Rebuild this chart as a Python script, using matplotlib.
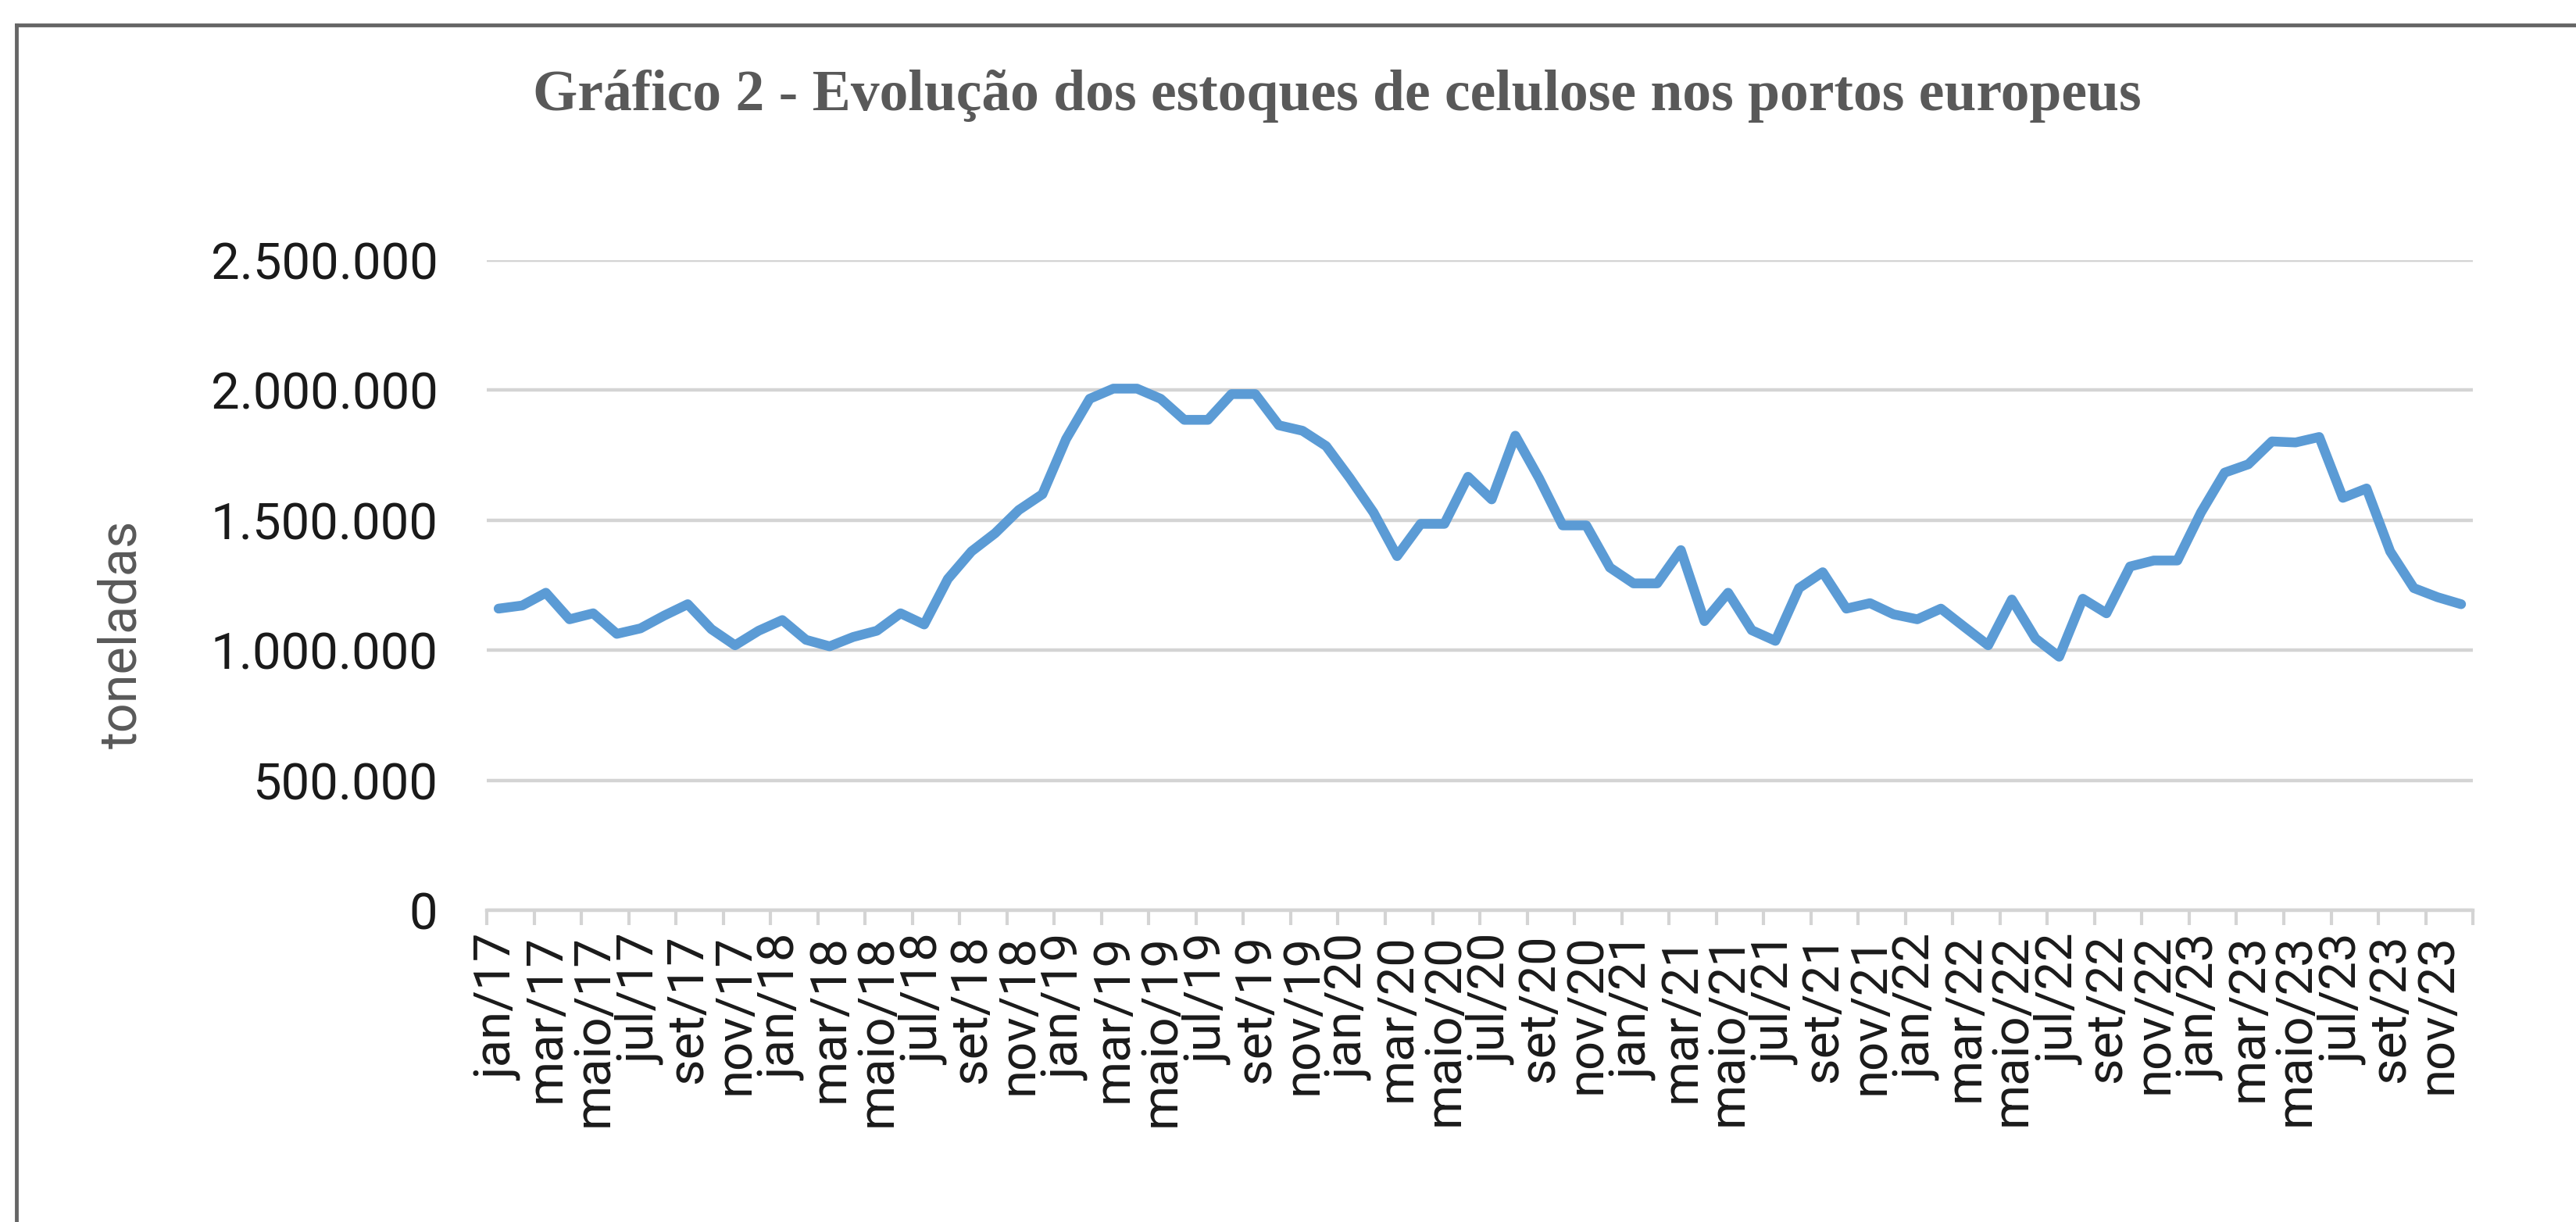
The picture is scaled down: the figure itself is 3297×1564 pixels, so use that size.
import matplotlib.pyplot as plt
import matplotlib.ticker as tck
import numpy as np
from matplotlib.lines import Line2D

# month / year labels used on the category axis
MONTHS = ['jan', 'fev', 'mar', 'abr', 'maio', 'jun', 'jul', 'ago', 'set', 'out', 'nov', 'dez']
YEARS = ['17', '18', '19', '20', '21', '22', '23']

# stocks in European ports, thousand tonnes, read month by month
stocks_2017 = [1160, 1172, 1221, 1119, 1142, 1063, 1084, 1133, 1177, 1081, 1019, 1075]
stocks_2018 = [1116, 1040, 1015, 1051, 1075, 1142, 1099, 1274, 1380, 1450, 1539, 1600]
stocks_2019 = [1812, 1967, 2006, 2006, 1967, 1886, 1886, 1985, 1985, 1865, 1844, 1785]
stocks_2020 = [1662, 1530, 1362, 1486, 1486, 1667, 1580, 1825, 1662, 1480, 1480, 1318]
stocks_2021 = [1257, 1257, 1385, 1112, 1221, 1077, 1036, 1239, 1300, 1160, 1181, 1138]
stocks_2022 = [1119, 1160, 1089, 1019, 1195, 1045, 975, 1198, 1142, 1322, 1345, 1345]
stocks_2023 = [1530, 1683, 1715, 1803, 1799, 1820, 1586, 1622, 1380, 1239, 1204, 1177]

Y_TICKS = [0, 500000, 1000000, 1500000, 2000000, 2500000]

TITLE = 'Gráfico 2 - Evolução dos estoques de celulose nos portos europeus'

stocks = np.array(stocks_2017 + stocks_2018 + stocks_2019 + stocks_2020
                  + stocks_2021 + stocks_2022 + stocks_2023) * 1000
labels = [f'{m}/{y}' for y in YEARS for m in MONTHS]
x = np.arange(len(stocks))

fig = plt.figure(figsize=(32.98, 15.64), dpi=100)
ax = fig.add_axes([0.1889, 0.2551, 0.9597 - 0.1889, 0.7871 - 0.2551])

ax.plot(x, stocks, color='#5B9BD5', linewidth=9, solid_joinstyle='round', solid_capstyle='round')

# y axis
ax.set_ylim(0, 2500000)
ax.set_yticks(Y_TICKS)
ax.yaxis.set_major_formatter(tck.FuncFormatter(lambda v, _: f'{int(v):,}'.replace(',', '.')))
ax.tick_params(axis='y', length=0, pad=45, labelsize=47, labelcolor='#1a1a1a')
ax.grid(axis='y', color='#d4d4d4', linewidth=3.2)
ax.set_axisbelow(True)

# x axis: labels every 2 months, tick marks on the category boundaries
ax.set_xlim(-0.5, len(stocks) - 0.5)
ax.set_xticks(x[::2])
ax.set_xticklabels(labels[::2], rotation=90, ha='center', va='top')
ax.set_xticks(np.arange(-0.5, len(stocks), 2), minor=True)
ax.tick_params(axis='x', which='major', length=0, pad=22, labelsize=47, labelcolor='#1a1a1a')
ax.tick_params(axis='x', which='minor', length=14, width=3, color='#d4d4d4')

for side in ['top', 'right', 'left']:
    ax.spines[side].set_visible(False)
ax.spines['bottom'].set_color('#d4d4d4')
ax.spines['bottom'].set_linewidth(3.2)

for lbl in ax.get_xticklabels() + ax.get_yticklabels():
    lbl.set_fontfamily('Roboto')

fig.text(0.519, 1 - 141 / 1564, TITLE, ha='center', va='baseline', fontsize=53,
         fontweight='bold', color='#595959', family='Liberation Serif')
fig.text(156 / 3298, 1 - 812 / 1564, 'toneladas', rotation=90, ha='center', va='center',
         fontsize=48, color='#595959', family=['Liberation Sans Narrow', 'Roboto'])

# outer frame (only top and left edges fall inside the picture)
fig.add_artist(Line2D([21 / 3298, 1], [1 - 32 / 1564, 1 - 32 / 1564], color='#666666', linewidth=3.5))
fig.add_artist(Line2D([21 / 3298, 21 / 3298], [0, 1 - 32 / 1564], color='#666666', linewidth=3.5))

fig.savefig('out.png', dpi=100, facecolor='white')
